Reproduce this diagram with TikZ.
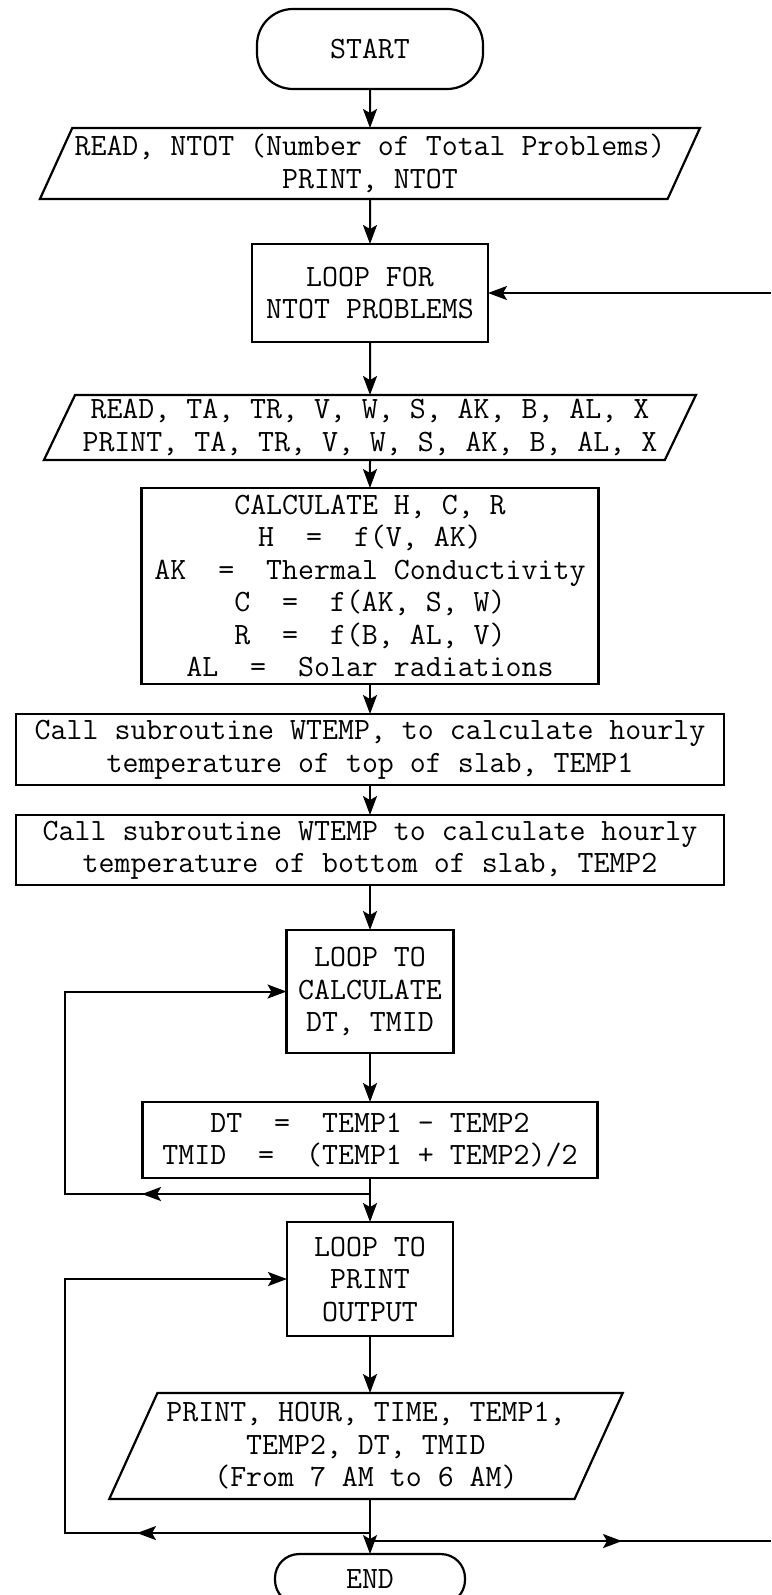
\documentclass[tikz,border=0pt]{standalone}
\usepackage{tikz}
\usetikzlibrary{positioning, arrows.meta, shapes.geometric}

\begin{document}
\begin{tikzpicture}[
  x=1pt, y=-1pt,
  term/.style={
    rectangle, draw, line width=2.2pt, rounded corners=36pt,
    inner sep=0pt, outer sep=0pt, font=\fontsize{31}{32.5}\selectfont\ttfamily
  },
  block/.style={
    rectangle, draw, line width=2.2pt, inner sep=0pt, outer sep=0pt,
    align=center, font=\fontsize{31}{32.5}\selectfont\ttfamily
  },
  io/.style={
    trapezium, draw, line width=2.2pt, inner sep=0pt, outer sep=0pt,
    trapezium left angle=61, trapezium right angle=119,
    trapezium stretches body,
    align=center, font=\fontsize{31}{32.5}\selectfont\ttfamily
  },
  arr/.style={-{Stealth[length=19pt, width=14pt, inset=4pt]}, line width=2pt}
]
\useasboundingbox (0,0) rectangle (771,1595);

\node[term, minimum width=226pt, minimum height=80pt] (start) at (370,49) {START};
\node[io, below=39pt of start, minimum width=660pt, minimum height=71pt] (in1) {READ, NTOT (Number of Total Problems)\\PRINT, NTOT};
\node[block, below=45pt of in1, minimum width=236pt, minimum height=98pt] (lfor) {LOOP FOR\\NTOT PROBLEMS};
\node[io, below=53pt of lfor, minimum width=652pt, minimum height=65pt] (in2) {READ, TA, TR, V, W, S, AK, B, AL, X\\PRINT, TA, TR, V, W, S, AK, B, AL, X};
\node[block, below=28pt of in2, minimum width=457pt, minimum height=196pt] (calc) {CALCULATE H, C, R\\H\ \ =\ \ f(V, AK)\\AK\ \ =\ \ Thermal Conductivity\\C\ \ =\ \ f(AK, S, W)\\R\ \ =\ \ f(B, AL, V)\\AL\ \ =\ \ Solar radiations};
\node[block, below=30pt of calc, minimum width=708pt, minimum height=71pt] (sub1) {Call subroutine WTEMP, to calculate hourly\\temperature of top of slab, TEMP1};
\node[block, below=30pt of sub1, minimum width=708pt, minimum height=70pt] (sub2) {Call subroutine WTEMP to calculate hourly\\temperature of bottom of slab, TEMP2};
\node[block, below=45pt of sub2, minimum width=167pt, minimum height=123pt] (lcalc) {LOOP TO\\CALCULATE\\DT, TMID};
\node[block, below=49pt of lcalc, minimum width=455pt, minimum height=76pt] (diff) {DT\ \ =\ \ TEMP1 - TEMP2\\TMID\ \ =\ \ (TEMP1 + TEMP2)/2};
\node[block, below=44pt of diff, minimum width=166pt, minimum height=114pt] (lprint) {LOOP TO\\PRINT\\OUTPUT};
\node[io, below=57pt of lprint, xshift=-4pt, inner xsep=9pt, minimum width=484pt, minimum height=106pt] (out) {PRINT, HOUR, TIME, TEMP1,\\TEMP2, DT, TMID\\(From 7 AM to 6 AM)};
\node[term, below=55pt of out, xshift=4pt, minimum width=190pt, minimum height=50pt, rounded corners=24pt] (stop) {END};

\coordinate (lft) at (65,0);
\coordinate (rgt) at (771,0);
\coordinate (j1) at ([yshift=-16pt]diff.south);
\coordinate (j2) at ([yshift=21pt]stop.north);
\coordinate (j3) at ([yshift=13pt]stop.north);

\draw[arr] (start) -- (in1);
\draw[arr] (in1) -- (lfor);
\draw[arr] (lfor) -- (in2);
\draw[arr] (in2) -- (calc);
\draw[arr] (calc) -- (sub1);
\draw[arr] (sub1) -- (sub2);
\draw[arr] (sub2) -- (lcalc);
\draw[arr] (lcalc) -- (diff);
\draw[arr] (diff) -- (lprint);
\draw[arr] (lprint) -- (lprint |- out.north);
\draw[arr] (stop |- out.south) -- (stop);

\draw[arr] (rgt |- lfor.east) -- (lfor.east);
\draw[arr] (j1) -- (lft |- j1) -- (lft |- lcalc.west) -- (lcalc.west);
\draw[arr] (j1) -- ++(-228,0);
\draw[arr] (j2) -- (lft |- j2) -- (lft |- lprint.west) -- (lprint.west);
\draw[arr] (j2) -- ++(-233,0);
\draw[line width=2pt] (j3) -- (rgt |- j3);
\draw[arr] (j3) -- ++(252,0);
\end{tikzpicture}
\end{document}
